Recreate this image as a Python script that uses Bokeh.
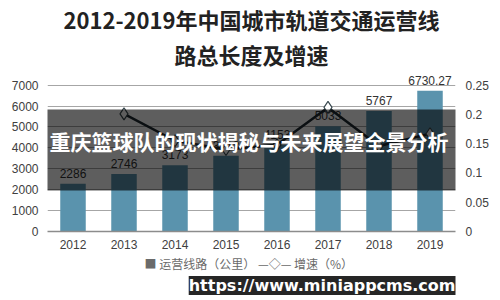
from bokeh.plotting import figure
from bokeh.models import (Range1d, LinearAxis, FixedTicker, Title,
                          BoxAnnotation, Label, ColumnDataSource)
from bokeh.core.properties import value
from bokeh.embed import file_html
from bokeh.resources import INLINE

years = ["2012", "2013", "2014", "2015", "2016", "2017", "2018", "2019"]
length_km = [2286, 2746, 3173, 3618, 4153, 5033, 5767, 6730.27]
length_labels = ["2286", "2746", "3173", "3618", "4153", "5033", "5767", "6730.27"]
growth_years = ["2013", "2014", "2015", "2016", "2017", "2018", "2019"]
growth_rate = [0.201, 0.155, 0.140, 0.148, 0.212, 0.146, 0.167]
left_ticks = [0, 1000, 2000, 3000, 4000, 5000, 6000, 7000]
right_ticks = [0, 0.05, 0.1, 0.15, 0.2, 0.25]
right_tick_labels = ["0", "0.05", "0.1", "0.15", "0.2", "0.25"]

title_lines = ["2012-2019年中国城市轨道交通运营线", "路总长度及增速"]
overlay_text = "重庆篮球队的现状揭秘与未来展望全景分析"
watermark_text = "https://www.miniappcms.com"
legend_text = "■ 运营线路（公里）   —◇— 增速（%）"

CJK = "Noto Sans CJK SC"
NUM = "Liberation Sans"
BAR = "#5a93ad"
LINE = "#1e2b31"

p = figure(width=500, height=300, x_range=years, y_range=Range1d(0, 7700),
           output_backend="svg", toolbar_location=None, title=None,
           min_border_left=47, min_border_right=45, min_border_top=70, min_border_bottom=69)
p.background_fill_color = "white"
p.border_fill_color = "white"
p.outline_line_color = None

for i, line in enumerate(reversed(title_lines)):
    t = Title(text=line, align="center", text_font=CJK, text_font_size="22px",
              text_font_style="bold", text_color="#222222", standoff=2 if i == 0 else 0)
    p.add_layout(t, "above")

p.extra_y_ranges = {"g": Range1d(0, 0.275)}


def style_axis(ax, standoff):
    ax.axis_line_color = None
    ax.major_tick_line_color = None
    ax.minor_tick_line_color = None
    ax.major_tick_out = 0
    ax.major_tick_in = 0
    ax.minor_tick_out = 0
    ax.minor_tick_in = 0
    ax.major_label_text_font = NUM
    ax.major_label_text_font_size = "12px"
    ax.major_label_text_color = "#404040"
    ax.major_label_standoff = standoff


ya = p.yaxis[0]
ya.ticker = FixedTicker(ticks=left_ticks)
style_axis(ya, 9)

ra = LinearAxis(y_range_name="g", ticker=FixedTicker(ticks=right_ticks))
ra.major_label_overrides = dict(zip(right_ticks, right_tick_labels))
style_axis(ra, 10)
p.add_layout(ra, "right")

xa = p.xaxis[0]
style_axis(xa, 8)
xa.axis_line_color = "#8c8c8c"
xa.axis_line_width = 1.5

p.xgrid.grid_line_color = None
p.ygrid.grid_line_color = "#a6a6a6"

src = ColumnDataSource(dict(x=years, y=length_km, lab=length_labels))
bars = p.vbar(x="x", top="y", width=0.5, source=src, fill_color=BAR, line_color=None)
p.text(x="x", y="y", text="lab", source=src, text_align="center", text_baseline="bottom",
       y_offset=-6, text_font=value(NUM), text_font_size="12px", text_color="#333333")

gsrc = ColumnDataSource(dict(x=growth_years, y=growth_rate))
ln = p.line(x="x", y="y", source=gsrc, y_range_name="g", line_color=LINE, line_width=2.5)
mk = p.scatter(x="x", y="y", source=gsrc, y_range_name="g", marker="diamond", size=12,
               fill_color="white", line_color="#3a4a50", line_width=1.2)

# legend row and watermark, placed as text rows under the x axis
leg = Title(text=legend_text, align="center", text_font=CJK, text_font_size="12px",
            text_font_style="normal", text_color="#6a6a6a", standoff=3)
p.add_layout(leg, "below")
wm = Title(text=watermark_text, align="right", text_font="DejaVu Sans", text_font_size="16px",
           text_font_style="bold", text_color="white", background_fill_color="black",
           background_fill_alpha=0.85, standoff=1)
p.add_layout(wm, "below")

# dark translucent banner across the middle, with its caption
band = BoxAnnotation(left=-1.5, right=9.5, top=5835, bottom=1961,
                     fill_color="black", fill_alpha=0.63, line_color=None, level="overlay")
p.add_layout(band)
p.add_layout(Label(x=3.95, y=4352, text=overlay_text,
                   text_align="center", text_baseline="middle", text_font=CJK,
                   text_font_size="21px", text_font_style="bold", text_color="white", level="overlay"))

open("out.html", "w").write(file_html(p, INLINE))
